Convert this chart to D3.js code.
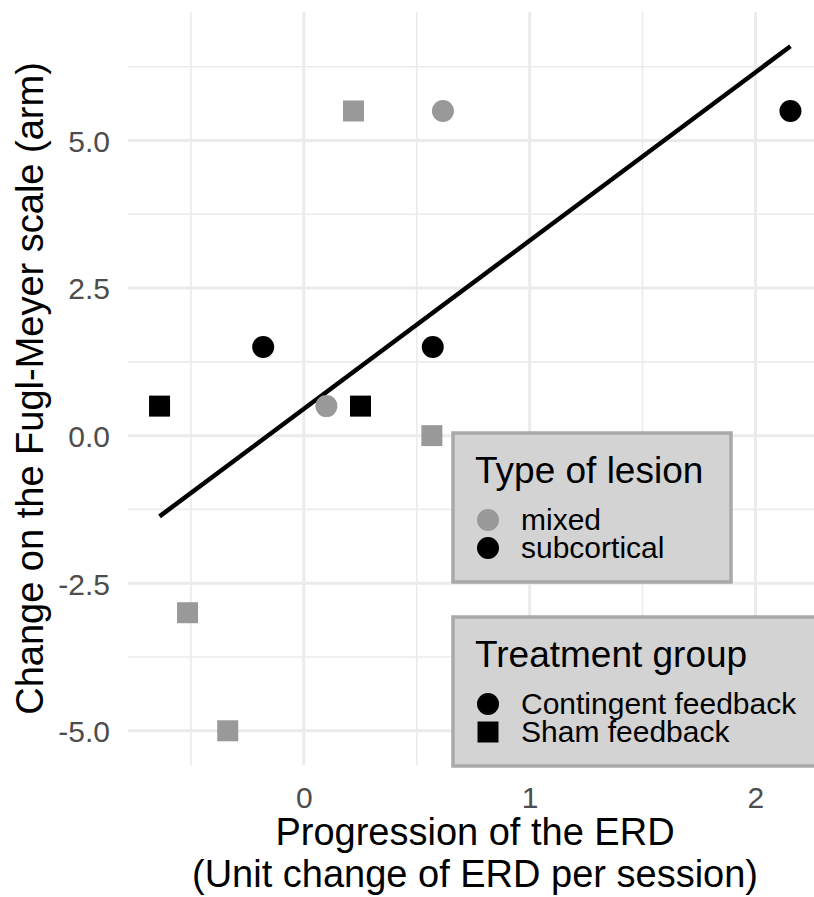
<!DOCTYPE html>
<html>
<head>
<meta charset="utf-8">
<script src="https://cdn.jsdelivr.net/npm/d3@7"></script>
<style>
  html, body { margin: 0; padding: 0; background: #fff; }
  svg { display: block; font-family: "Liberation Sans", Arial, sans-serif; }
</style>
</head>
<body>
<svg id="chart" width="814" height="897"></svg>
<script>
// Per-patient ERD progression and Fugl-Meyer change
const erdSlope = [0.22, 0.616, 2.155, -0.18, 0.571, -0.639, 0.10, 0.251, 0.567, -0.515, -0.337];
const fmChange = [5.5, 5.5, 5.5, 1.5, 1.5, 0.5, 0.5, 0.5, 0.0, -3.0, -5.0];
const lesionType = ["mixed", "mixed", "subcortical", "subcortical", "subcortical", "subcortical",
                    "mixed", "subcortical", "mixed", "mixed", "mixed"];
const treatment = ["Sham feedback", "Contingent feedback", "Contingent feedback", "Contingent feedback",
                   "Contingent feedback", "Sham feedback", "Contingent feedback", "Sham feedback",
                   "Sham feedback", "Sham feedback", "Sham feedback"];

const lesionLevels = ["mixed", "subcortical"];
const lesionColors = ["#999999", "#000000"];
const treatmentLevels = ["Contingent feedback", "Sham feedback"];
const xTicks = [0, 1, 2];
const yTicks = [-5, -2.5, 0, 2.5, 5];
const xMinor = [-0.5, 0.5, 1.5];
const yMinor = [-3.75, -1.25, 1.25, 3.75, 6.25];

const points = erdSlope.map((x, i) => ({ x, y: fmChange[i], lesion: lesionType[i], group: treatment[i] }));

// ordinary least squares fit (linear smoother over the data range)
const mx = d3.mean(erdSlope), my = d3.mean(fmChange);
const sxy = d3.sum(points, d => (d.x - mx) * (d.y - my));
const sxx = d3.sum(points, d => (d.x - mx) ** 2);
const slope = sxy / sxx, intercept = my - slope * mx;
const [xLo, xHi] = d3.extent(erdSlope);
const fitLine = [xLo, xHi].map(x => ({ x, y: intercept + slope * x }));

const svg = d3.select("#chart");
const panel = { left: 128, right: 822, top: 12, bottom: 765 };

function expand([a, b], f) { const p = (b - a) * f; return [a - p, b + p]; }
const yExtent = d3.extent(fmChange.concat(fitLine.map(d => d.y)));

const x = d3.scaleLinear().domain(expand([xLo, xHi], 0.05)).range([panel.left, panel.right]);
const y = d3.scaleLinear().domain(expand(yExtent, 0.05)).range([panel.bottom, panel.top]);

const grid = svg.append("g");
// minor grid
grid.selectAll(".xminor").data(xMinor).join("line")
  .attr("x1", d => x(d)).attr("x2", d => x(d)).attr("y1", panel.top).attr("y2", panel.bottom)
  .attr("stroke", "#ebebeb").attr("stroke-width", 1.6);
grid.selectAll(".yminor").data(yMinor).join("line")
  .attr("y1", d => y(d)).attr("y2", d => y(d)).attr("x1", panel.left).attr("x2", panel.right)
  .attr("stroke", "#ebebeb").attr("stroke-width", 1.6);
// major grid
grid.selectAll(".xmajor").data(xTicks).join("line")
  .attr("x1", d => x(d)).attr("x2", d => x(d)).attr("y1", panel.top).attr("y2", panel.bottom)
  .attr("stroke", "#ebebeb").attr("stroke-width", 3);
grid.selectAll(".ymajor").data(yTicks).join("line")
  .attr("y1", d => y(d)).attr("y2", d => y(d)).attr("x1", panel.left).attr("x2", panel.right)
  .attr("stroke", "#ebebeb").attr("stroke-width", 3);

// axes (labels only, no domain line or tick marks)
const xAxis = svg.append("g").attr("transform", `translate(0,${panel.bottom})`)
  .call(d3.axisBottom(x).tickValues(xTicks).tickFormat(d => String(d)).tickSize(0).tickPadding(28));
const yAxis = svg.append("g").attr("transform", `translate(${panel.left},0)`)
  .call(d3.axisLeft(y).tickValues(yTicks).tickFormat(d => d.toFixed(1)).tickSize(0).tickPadding(18));
[xAxis, yAxis].forEach(a => {
  a.select(".domain").remove();
  a.selectAll("text").attr("fill", "#4d4d4d").style("font-size", "30px")
    .style("font-family", "'Liberation Sans', Arial, sans-serif");
});
yAxis.selectAll("text").attr("dy", "0.36em");
xAxis.selectAll("text").attr("dy", "0.5em");

// regression line
svg.append("path").datum(fitLine)
  .attr("d", d3.line().x(d => x(d.x)).y(d => y(d.y)))
  .attr("fill", "none").attr("stroke", "#000").attr("stroke-width", 4.5);

// points
const color = d3.scaleOrdinal().domain(lesionLevels).range(lesionColors);
const symbolOf = d3.scaleOrdinal().domain(treatmentLevels).range([d3.symbolCircle, d3.symbolSquare]);
const sizeOf = d3.scaleOrdinal().domain(treatmentLevels).range([Math.PI * 11 * 11, 21 * 21]);
svg.append("g").selectAll("path").data(points).join("path")
  .attr("transform", d => `translate(${x(d.x)},${y(d.y)})`)
  .attr("d", d => d3.symbol().type(symbolOf(d.group)).size(sizeOf(d.group))())
  .attr("fill", d => color(d.lesion));

// axis titles
svg.append("text").attr("x", 475).attr("y", 845).attr("text-anchor", "middle")
  .style("font-size", "38px").attr("fill", "#000").text("Progression of the ERD");
svg.append("text").attr("x", 475).attr("y", 887).attr("text-anchor", "middle")
  .style("font-size", "38px").attr("fill", "#000").text("(Unit change of ERD per session)");
svg.append("text").attr("transform", `translate(43,${(panel.top + panel.bottom) / 2}) rotate(-90)`)
  .attr("text-anchor", "middle").style("font-size", "38px").attr("fill", "#000")
  .text("Change on the Fugl-Meyer scale (arm)");

// legends
function legend(top, title, items, right) {
  const g = svg.append("g");
  g.append("rect").attr("x", 453).attr("y", top)
    .attr("width", right - 453).attr("height", 149)
    .attr("fill", "#d3d3d3").attr("stroke", "#a9a9a9").attr("stroke-width", 3.5);
  g.append("text").attr("x", 475).attr("y", top + 50).style("font-size", "37px").attr("fill", "#000").text(title);
  items.forEach((it, i) => {
    const cy = top + 87 + i * 28;
    g.append("path").attr("transform", `translate(488,${cy})`)
      .attr("d", d3.symbol().type(it.symbol).size(it.size)()).attr("fill", it.fill);
    g.append("text").attr("x", 521).attr("y", cy + 10).style("font-size", "30px").attr("fill", "#000").text(it.label);
  });
}
legend(433, "Type of lesion", lesionLevels.map((l, i) => ({
  label: l, fill: lesionColors[i], symbol: d3.symbolCircle, size: Math.PI * 11 * 11 })), 731);
legend(617, "Treatment group", treatmentLevels.map(t => ({
  label: t, fill: "#000", symbol: symbolOf(t), size: sizeOf(t) })), 822);
</script>
</body>
</html>
